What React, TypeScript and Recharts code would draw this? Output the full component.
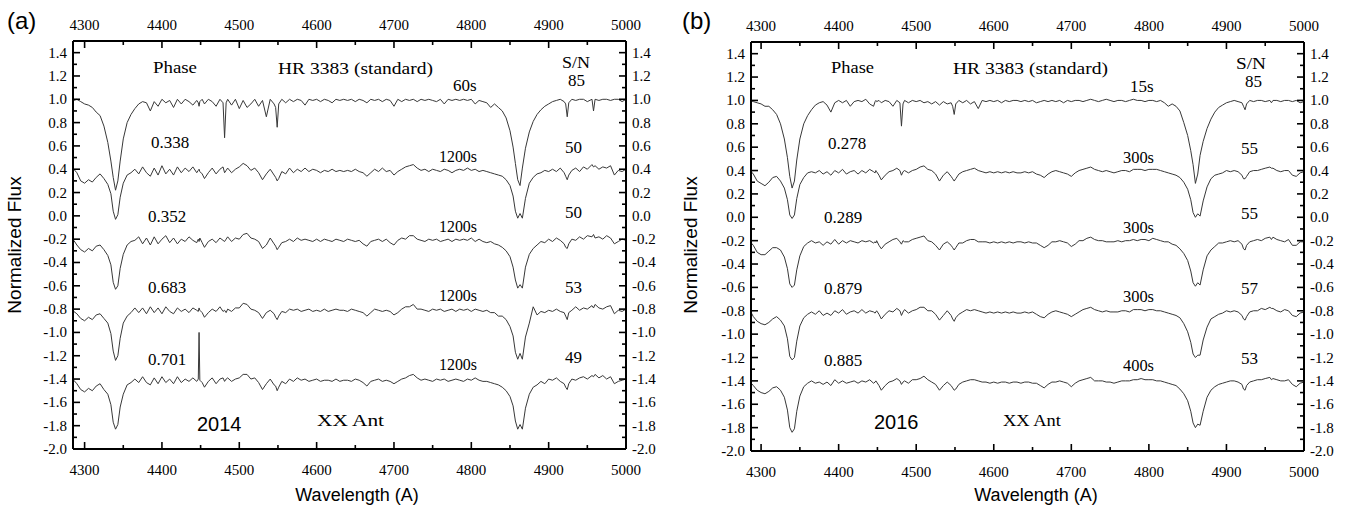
import React from "react";
import { LineChart, Line, XAxis, YAxis } from "recharts";

// wavelength grid (Angstrom), shared by every spectrum
const wavelength = [
  4286, 4290, 4295, 4300, 4305, 4310, 4315, 4320, 4325, 4330,
  4334, 4337, 4340, 4343, 4346, 4350, 4355, 4360, 4365, 4370,
  4375, 4380, 4385, 4390, 4395, 4400, 4405, 4410, 4415, 4420,
  4425, 4430, 4435, 4440, 4445, 4447, 4448, 4449, 4452, 4455,
  4460, 4465, 4470, 4475, 4479, 4481, 4483, 4485, 4490, 4495,
  4500, 4505, 4510, 4515, 4520, 4525, 4530, 4535, 4540, 4545,
  4547, 4549, 4551, 4555, 4560, 4565, 4570, 4575, 4580, 4585,
  4590, 4595, 4600, 4605, 4610, 4615, 4620, 4625, 4630, 4635,
  4640, 4645, 4650, 4655, 4660, 4665, 4670, 4675, 4680, 4685,
  4690, 4695, 4700, 4705, 4710, 4715, 4720, 4725, 4730, 4735,
  4740, 4745, 4750, 4755, 4760, 4765, 4770, 4775, 4780, 4785,
  4790, 4795, 4800, 4805, 4810, 4815, 4820, 4825, 4830, 4835,
  4840, 4845, 4850, 4854, 4857, 4860, 4863, 4866, 4870, 4875,
  4880, 4885, 4890, 4895, 4900, 4905, 4910, 4915, 4920, 4922,
  4924, 4926, 4930, 4935, 4940, 4945, 4950, 4956, 4958, 4960,
  4965, 4970, 4975, 4980, 4985, 4990, 4995, 5000,
];

// vertical shift applied to each spectrum (top to bottom)
const offsets = [0, -0.6, -1.2, -1.8, -2.4];

// ---- 2014 (panel a), normalized flux ----
const std2014 = [
  0.99, 1.00, 0.98, 0.96, 0.95, 0.93, 0.89, 0.86, 0.77, 0.63,
  0.47, 0.33, 0.22, 0.30, 0.47, 0.66, 0.80, 0.87, 0.92, 0.96,
  0.98, 0.97, 0.90, 0.98, 0.94, 1.00, 0.97, 0.99, 0.93, 1.00,
  0.96, 1.00, 0.98, 0.95, 0.99, 0.97, 0.94, 0.98, 1.00, 0.96,
  1.00, 0.98, 0.94, 1.00, 0.97, 0.67, 0.97, 1.00, 0.95, 1.00,
  0.92, 0.99, 0.93, 0.96, 1.00, 0.94, 0.99, 0.85, 1.00, 0.96,
  0.93, 0.76, 0.96, 1.00, 0.97, 1.00, 0.98, 1.00, 0.99, 0.95,
  1.00, 0.99, 1.00, 0.98, 1.00, 0.99, 0.97, 1.00, 0.99, 1.00,
  0.99, 1.00, 0.98, 1.00, 0.99, 0.97, 1.00, 0.99, 1.00, 0.98,
  1.00, 0.99, 0.94, 1.00, 0.98, 1.00, 0.99, 1.00, 0.98, 1.00,
  0.99, 1.00, 0.99, 0.98, 1.00, 0.96, 1.00, 0.99, 1.00, 0.99,
  1.00, 0.99, 1.00, 0.96, 0.99, 0.98, 0.97, 0.93, 0.96, 0.93,
  0.90, 0.84, 0.73, 0.59, 0.45, 0.31, 0.26, 0.41, 0.58, 0.72,
  0.81, 0.87, 0.91, 0.94, 0.96, 0.98, 0.99, 1.00, 0.98, 0.96,
  0.85, 0.97, 1.00, 0.99, 1.00, 1.00, 0.98, 1.00, 0.90, 1.00,
  0.99, 1.00, 1.00, 0.99, 1.00, 1.00, 0.98, 1.00,
];
const xx2014a = [
  1.00, 0.97, 0.90, 0.88, 0.91, 0.89, 0.93, 0.96, 0.92, 0.87,
  0.79, 0.64, 0.57, 0.61, 0.76, 0.88, 0.95, 0.97, 1.00, 0.96,
  1.02, 0.97, 0.94, 1.01, 0.95, 1.03, 0.96, 1.00, 0.95, 1.02,
  0.97, 1.01, 0.98, 1.02, 0.97, 0.99, 1.00, 0.98, 0.96, 0.92,
  0.97, 1.01, 0.96, 1.00, 1.02, 0.97, 0.99, 1.01, 0.97, 1.00,
  1.02, 1.05, 1.03, 0.99, 1.01, 0.97, 0.91, 0.96, 1.00, 0.95,
  0.93, 0.90, 0.92, 0.98, 0.96, 1.01, 0.97, 1.00, 0.98, 1.01,
  0.98, 1.00, 0.99, 0.97, 0.99, 0.98, 1.00, 0.98, 0.99, 0.98,
  0.99, 0.98, 1.00, 0.98, 0.97, 0.94, 0.97, 1.00, 0.98, 1.01,
  0.98, 0.99, 0.95, 0.98, 1.00, 1.02, 1.03, 1.04, 1.01, 0.99,
  1.00, 0.98, 1.00, 0.99, 0.98, 1.00, 0.99, 0.97, 0.99, 1.00,
  0.99, 1.01, 0.99, 1.00, 0.98, 0.99, 0.98, 0.97, 0.96, 0.95,
  0.94, 0.91, 0.86, 0.77, 0.64, 0.58, 0.62, 0.58, 0.75, 0.88,
  0.93, 0.96, 0.97, 0.99, 0.98, 1.00, 0.98, 1.01, 0.97, 0.94,
  0.91, 0.95, 0.99, 1.01, 0.98, 1.02, 1.00, 1.04, 1.02, 1.03,
  1.00, 1.02, 1.01, 1.03, 0.95, 0.99, 0.98, 1.00,
];
const xx2014b = [
  0.99, 0.95, 0.91, 0.89, 0.92, 0.90, 0.94, 0.95, 0.91, 0.86,
  0.78, 0.63, 0.57, 0.60, 0.75, 0.87, 0.95, 0.98, 0.99, 1.02,
  0.96, 1.01, 0.95, 1.02, 0.96, 1.00, 1.03, 0.97, 1.01, 0.96,
  1.00, 0.98, 1.02, 0.99, 0.97, 1.00, 0.98, 1.01, 0.97, 0.93,
  0.98, 1.00, 0.97, 1.01, 0.99, 0.98, 1.00, 1.02, 0.98, 1.01,
  1.00, 1.04, 1.05, 1.01, 1.00, 0.98, 0.92, 0.95, 1.01, 0.96,
  0.94, 0.91, 0.93, 0.97, 0.98, 1.00, 0.98, 1.01, 0.99, 1.00,
  0.99, 0.98, 1.00, 0.98, 1.00, 0.99, 0.98, 1.00, 0.99, 0.98,
  1.00, 0.99, 0.98, 0.99, 0.96, 0.94, 0.98, 0.99, 1.00, 0.98,
  1.00, 0.97, 0.95, 0.99, 1.01, 1.00, 1.03, 1.03, 1.00, 0.99,
  0.98, 1.00, 0.99, 1.00, 0.98, 0.99, 1.00, 0.98, 1.00, 0.99,
  1.00, 0.99, 1.01, 0.98, 1.00, 0.98, 0.97, 0.98, 0.96, 0.95,
  0.93, 0.90, 0.85, 0.76, 0.65, 0.58, 0.61, 0.58, 0.76, 0.87,
  0.92, 0.95, 0.98, 0.97, 1.00, 0.98, 1.01, 0.99, 0.96, 0.93,
  0.92, 0.96, 1.00, 0.99, 1.02, 1.00, 1.03, 1.02, 1.04, 1.01,
  1.02, 1.00, 1.03, 1.01, 0.96, 0.98, 1.00, 0.99,
];
const xx2014c = [
  0.98, 0.96, 0.92, 0.90, 0.93, 0.91, 0.95, 0.96, 0.92, 0.88,
  0.79, 0.64, 0.56, 0.60, 0.75, 0.88, 0.94, 0.97, 1.01, 0.97,
  1.01, 0.96, 1.02, 0.97, 1.01, 0.96, 1.02, 0.98, 0.96, 1.01,
  0.98, 1.00, 0.97, 1.01, 0.99, 0.98, 1.01, 0.99, 0.97, 0.93,
  0.97, 1.00, 0.98, 1.02, 0.98, 0.99, 0.97, 1.00, 0.98, 1.01,
  1.01, 1.05, 1.04, 1.00, 0.99, 0.97, 0.92, 0.97, 0.99, 0.96,
  0.93, 0.91, 0.94, 0.98, 0.97, 1.00, 0.99, 1.00, 0.98, 0.99,
  1.00, 0.98, 0.99, 0.98, 1.00, 0.98, 0.99, 1.00, 0.99, 0.99,
  0.98, 1.00, 0.99, 0.98, 0.97, 0.94, 0.97, 1.00, 0.99, 0.98,
  0.99, 0.98, 0.95, 0.97, 1.00, 1.02, 1.02, 1.04, 1.00, 1.00,
  0.99, 0.98, 1.00, 0.99, 1.00, 0.98, 0.99, 1.00, 0.98, 1.00,
  0.99, 1.00, 0.98, 1.00, 0.99, 0.98, 0.99, 0.97, 0.97, 0.94,
  0.94, 0.91, 0.85, 0.77, 0.63, 0.57, 0.62, 0.57, 0.76, 0.88,
  1.02, 0.95, 0.98, 0.97, 0.99, 0.98, 1.00, 0.98, 0.97, 0.94,
  0.91, 0.97, 0.99, 1.02, 0.99, 1.01, 1.00, 1.03, 1.01, 1.04,
  1.01, 1.00, 1.02, 1.03, 0.96, 0.99, 0.98, 1.00,
];
const xx2014d = [
  0.99, 0.96, 0.91, 0.89, 0.92, 0.90, 0.94, 0.96, 0.91, 0.87,
  0.78, 0.63, 0.57, 0.61, 0.76, 0.87, 0.95, 0.97, 1.00, 0.97,
  1.02, 0.97, 0.95, 1.01, 0.96, 1.02, 0.97, 1.00, 0.96, 1.02,
  0.97, 1.00, 0.98, 1.01, 0.98, 1.00, 1.40, 0.99, 0.97, 0.93,
  0.98, 1.01, 0.96, 1.00, 1.01, 0.98, 1.00, 1.01, 0.98, 1.00,
  1.01, 1.04, 1.04, 1.00, 1.01, 0.97, 0.91, 0.96, 1.00, 0.95,
  0.94, 0.90, 0.93, 0.98, 0.96, 1.00, 0.98, 1.01, 0.99, 1.00,
  0.98, 0.99, 1.00, 0.98, 0.99, 0.99, 0.98, 1.00, 0.98, 0.99,
  0.99, 0.98, 1.00, 0.99, 0.97, 0.94, 0.98, 0.99, 1.00, 0.98,
  0.99, 0.98, 0.96, 0.98, 1.00, 1.01, 1.03, 1.04, 1.01, 0.99,
  1.00, 0.99, 0.98, 1.00, 0.99, 1.00, 0.98, 0.99, 1.00, 0.99,
  0.98, 1.00, 0.99, 1.01, 0.99, 0.98, 0.98, 0.97, 0.96, 0.95,
  0.93, 0.90, 0.85, 0.77, 0.64, 0.57, 0.61, 0.57, 0.75, 0.87,
  0.93, 0.95, 0.98, 0.96, 1.00, 0.99, 1.01, 0.98, 0.96, 0.93,
  0.91, 0.96, 1.00, 0.99, 1.01, 1.02, 1.00, 1.03, 1.02, 1.04,
  1.01, 1.03, 1.00, 1.02, 0.96, 0.98, 0.99, 1.00,
];

// ---- 2016 (panel b), normalized flux ----
const std2016 = [
  1.00, 0.99, 0.98, 0.97, 0.95, 0.95, 0.92, 0.88, 0.80, 0.67,
  0.51, 0.35, 0.25, 0.31, 0.49, 0.67, 0.80, 0.87, 0.92, 0.96,
  0.98, 0.99, 0.96, 0.90, 0.98, 1.00, 0.98, 1.00, 0.95, 0.99,
  1.00, 0.99, 1.01, 0.97, 0.95, 0.99, 1.00, 0.99, 1.00, 0.98,
  1.00, 0.99, 0.95, 1.00, 0.98, 0.78, 0.97, 1.00, 0.98, 1.00,
  0.99, 1.00, 0.98, 0.99, 0.97, 0.99, 0.96, 0.99, 0.97, 0.98,
  0.95, 0.88, 0.97, 1.00, 0.98, 1.00, 0.97, 0.99, 0.93, 1.00,
  0.99, 1.00, 0.99, 1.00, 0.98, 1.00, 0.99, 1.00, 1.00, 0.99,
  1.00, 0.99, 1.00, 0.98, 0.99, 1.00, 0.99, 1.00, 0.99, 1.00,
  0.98, 1.00, 0.99, 1.00, 1.00, 0.99, 1.00, 1.01, 1.00, 0.99,
  1.00, 1.01, 1.00, 0.99, 1.00, 1.00, 0.99, 1.00, 1.01, 1.00,
  1.00, 0.99, 1.00, 1.00, 0.99, 1.00, 0.98, 0.95, 0.97, 0.95,
  0.91, 0.81, 0.70, 0.57, 0.45, 0.29, 0.37, 0.53, 0.65, 0.76,
  0.84, 0.90, 0.94, 0.96, 0.98, 0.99, 1.00, 0.99, 0.98, 0.95,
  0.92, 0.97, 1.00, 0.99, 1.00, 1.00, 0.99, 1.00, 0.98, 1.00,
  1.00, 0.99, 1.00, 1.00, 0.99, 1.00, 0.98, 0.99,
];
const xx2016a = [
  1.00, 0.97, 0.91, 0.89, 0.87, 0.90, 0.94, 0.95, 0.91, 0.85,
  0.75, 0.62, 0.59, 0.62, 0.76, 0.88, 0.94, 0.98, 0.99, 0.98,
  1.00, 0.97, 0.99, 0.96, 1.00, 0.98, 1.01, 0.97, 0.99, 1.00,
  0.97, 1.00, 0.98, 1.01, 0.99, 0.98, 1.00, 0.99, 0.96, 0.92,
  0.96, 0.99, 1.00, 1.02, 1.00, 0.96, 0.99, 1.00, 0.98, 1.00,
  1.01, 1.03, 1.04, 1.01, 1.00, 0.97, 0.91, 0.96, 0.99, 0.95,
  0.93, 0.91, 0.93, 0.97, 0.99, 1.00, 1.01, 1.02, 1.00, 0.99,
  0.98, 0.99, 0.98, 0.99, 0.98, 0.99, 0.98, 0.99, 0.98, 0.98,
  0.99, 0.98, 0.99, 0.97, 0.96, 0.94, 0.97, 0.99, 1.00, 0.99,
  0.98, 0.97, 0.95, 0.98, 1.00, 1.01, 1.02, 1.03, 1.01, 1.00,
  0.99, 1.00, 0.99, 0.98, 0.99, 1.00, 1.00, 0.99, 1.01, 1.01,
  1.01, 1.00, 1.01, 1.01, 1.01, 1.00, 0.99, 0.98, 0.97, 0.96,
  0.94, 0.90, 0.84, 0.75, 0.64, 0.60, 0.63, 0.61, 0.74, 0.86,
  0.93, 0.96, 0.97, 0.98, 1.00, 0.99, 1.00, 0.99, 0.96, 0.93,
  0.93, 0.95, 0.99, 1.00, 1.00, 1.01, 1.02, 1.03, 1.02, 1.02,
  1.00, 0.99, 1.00, 1.00, 0.96, 0.95, 0.98, 0.99,
];
const xx2016b = [
  0.99, 0.96, 0.90, 0.88, 0.88, 0.91, 0.94, 0.94, 0.92, 0.86,
  0.76, 0.63, 0.60, 0.62, 0.75, 0.87, 0.95, 0.98, 1.00, 0.98,
  0.99, 0.96, 0.99, 0.97, 1.01, 0.97, 1.00, 0.98, 1.00, 0.99,
  0.98, 1.00, 0.99, 1.00, 0.98, 0.99, 0.98, 1.00, 0.96, 0.93,
  0.97, 0.99, 1.01, 1.02, 0.99, 0.97, 1.00, 0.99, 0.99, 1.01,
  1.02, 1.03, 1.04, 1.00, 0.99, 0.96, 0.92, 0.97, 0.99, 0.96,
  0.94, 0.92, 0.94, 0.98, 0.98, 1.00, 1.01, 1.01, 0.99, 0.99,
  0.99, 0.98, 0.99, 0.98, 0.99, 0.98, 0.99, 0.98, 0.99, 0.99,
  0.98, 0.99, 0.98, 0.98, 0.96, 0.94, 0.96, 0.99, 0.99, 1.00,
  0.99, 0.98, 0.95, 0.97, 1.00, 1.00, 1.02, 1.03, 1.01, 1.00,
  1.00, 0.99, 0.99, 0.99, 1.00, 0.99, 1.00, 1.00, 1.01, 1.00,
  1.01, 1.01, 1.00, 1.02, 1.01, 1.00, 0.99, 0.99, 0.97, 0.96,
  0.93, 0.89, 0.83, 0.74, 0.64, 0.61, 0.64, 0.62, 0.75, 0.87,
  0.92, 0.95, 0.98, 0.98, 0.99, 1.00, 0.99, 1.00, 0.97, 0.93,
  0.92, 0.96, 0.99, 1.00, 1.01, 1.00, 1.02, 1.03, 1.01, 1.03,
  1.01, 1.00, 0.99, 1.01, 0.96, 0.96, 0.99, 0.99,
];
const xx2016c = [
  1.00, 0.95, 0.91, 0.89, 0.88, 0.90, 0.93, 0.95, 0.92, 0.87,
  0.76, 0.61, 0.58, 0.60, 0.74, 0.87, 0.94, 0.97, 0.99, 0.97,
  1.00, 0.96, 0.98, 0.96, 1.00, 0.98, 1.01, 0.97, 0.99, 1.00,
  0.98, 1.01, 0.98, 1.00, 0.99, 0.98, 0.99, 1.00, 0.97, 0.93,
  0.97, 1.00, 0.99, 1.02, 1.00, 0.96, 0.99, 1.01, 0.98, 1.00,
  1.01, 1.03, 1.03, 1.00, 1.00, 0.97, 0.92, 0.96, 1.00, 0.96,
  0.93, 0.91, 0.94, 0.97, 0.99, 1.01, 1.00, 1.01, 1.00, 0.99,
  0.98, 0.99, 0.98, 0.99, 0.98, 0.99, 0.98, 0.99, 0.98, 0.98,
  0.99, 0.98, 0.99, 0.97, 0.95, 0.94, 0.97, 0.99, 1.00, 0.99,
  0.98, 0.97, 0.95, 0.97, 0.99, 1.01, 1.02, 1.03, 1.01, 1.00,
  0.99, 1.00, 0.99, 0.99, 0.99, 1.00, 1.00, 0.99, 1.01, 1.01,
  1.01, 1.00, 1.01, 1.01, 1.00, 1.00, 0.99, 0.98, 0.97, 0.96,
  0.94, 0.89, 0.82, 0.73, 0.63, 0.60, 0.62, 0.62, 0.75, 0.86,
  0.93, 0.95, 0.97, 0.98, 1.00, 0.99, 1.00, 0.99, 0.96, 0.93,
  0.92, 0.95, 0.99, 1.00, 1.00, 1.02, 1.01, 1.03, 1.02, 1.02,
  1.00, 0.99, 1.01, 1.00, 0.96, 0.95, 0.98, 0.99,
];
const xx2016d = [
  0.99, 0.96, 0.92, 0.90, 0.89, 0.91, 0.94, 0.95, 0.92, 0.86,
  0.75, 0.60, 0.56, 0.59, 0.74, 0.87, 0.95, 0.98, 1.00, 0.98,
  0.99, 0.97, 0.99, 0.96, 1.01, 0.98, 1.00, 0.98, 0.99, 1.00,
  0.98, 1.00, 0.99, 1.01, 0.98, 0.99, 1.00, 0.99, 0.96, 0.92,
  0.96, 0.99, 1.00, 1.02, 1.00, 0.97, 0.99, 1.00, 0.98, 1.01,
  1.01, 1.02, 1.04, 1.01, 0.99, 0.97, 0.92, 0.96, 0.99, 0.96,
  0.94, 0.92, 0.93, 0.97, 0.99, 1.00, 1.01, 1.01, 1.00, 0.99,
  0.99, 0.98, 0.99, 0.98, 0.99, 0.99, 0.98, 0.99, 0.99, 0.98,
  0.99, 0.99, 0.98, 0.98, 0.96, 0.94, 0.97, 0.99, 0.99, 1.00,
  0.99, 0.98, 0.95, 0.98, 1.00, 1.01, 1.02, 1.03, 1.00, 1.00,
  1.00, 0.99, 0.99, 0.98, 0.99, 1.00, 1.00, 1.00, 1.01, 1.01,
  1.02, 1.01, 1.01, 1.01, 1.00, 1.00, 0.99, 0.98, 0.97, 0.96,
  0.93, 0.89, 0.83, 0.74, 0.64, 0.60, 0.63, 0.62, 0.74, 0.86,
  0.92, 0.95, 0.97, 0.98, 0.99, 1.00, 1.00, 0.99, 0.97, 0.93,
  0.92, 0.96, 0.99, 1.00, 1.01, 1.01, 1.02, 1.03, 1.01, 1.02,
  1.01, 1.00, 1.00, 1.01, 0.97, 0.95, 0.98, 0.99,
];

// axis ticks
const xTicks = [4300, 4350, 4400, 4450, 4500, 4550, 4600, 4650, 4700, 4750, 4800, 4850, 4900, 4950, 5000];
const yTicks = [1.4, 1.3, 1.2, 1.1, 1.0, 0.9, 0.8, 0.7, 0.6, 0.5, 0.4, 0.3, 0.2, 0.1, 0.0,
  -0.1, -0.2, -0.3, -0.4, -0.5, -0.6, -0.7, -0.8, -0.9, -1.0, -1.1, -1.2, -1.3, -1.4,
  -1.5, -1.6, -1.7, -1.8, -1.9, -2.0];

// annotations
const phases2014 = ["0.338", "0.352", "0.683", "0.701"];
const exposures2014 = ["60s", "1200s", "1200s", "1200s", "1200s"];
const snr2014 = ["85", "50", "50", "53", "49"];
const phases2016 = ["0.278", "0.289", "0.879", "0.885"];
const exposures2016 = ["15s", "300s", "300s", "300s", "400s"];
const snr2016 = ["85", "55", "55", "57", "53"];

const SERIF = "'Liberation Serif', 'DejaVu Serif', serif";
const SANS = "'Liberation Sans', Arial, sans-serif";
const keys = ["s0", "s1", "s2", "s3", "s4"];

function buildData(series: number[][]) {
  return wavelength.map((w, i) => {
    const row: Record<string, number> = { w };
    series.forEach((s, k) => {
      row[keys[k]] = s[i] + offsets[k];
    });
    return row;
  });
}

const data2014 = buildData([std2014, xx2014a, xx2014b, xx2014c, xx2014d]);
const data2016 = buildData([std2016, xx2016a, xx2016b, xx2016c, xx2016d]);

const XTick = (props: any) => {
  const { x, y, payload, side } = props;
  const v = payload.value;
  const major = Math.round(v) % 100 === 0;
  const len = major ? 7 : 4;
  const dir = side === "top" ? 1 : -1;
  return (
    <g>
      <line x1={x} y1={y} x2={x} y2={y + dir * len} stroke="#000" strokeWidth={1.6} />
      {major && (
        <text x={x} y={side === "top" ? y - 11 : y + 26} textAnchor="middle"
          fontFamily={SERIF} fontSize={15} fill="#000">{v}</text>
      )}
    </g>
  );
};

const YTick = (props: any) => {
  const { x, y, payload, side } = props;
  const v = payload.value;
  const major = Math.round(v * 10) % 2 === 0;
  const len = major ? 7 : 4;
  const dir = side === "left" ? 1 : -1;
  return (
    <g>
      <line x1={x} y1={y} x2={x + dir * len} y2={y} stroke="#000" strokeWidth={1.6} />
      {major && (
        <text x={side === "left" ? x - 6 : x + 6} y={y + 5} textAnchor={side === "left" ? "end" : "start"}
          fontFamily={SERIF} fontSize={15} fill="#000">{v.toFixed(1)}</text>
      )}
    </g>
  );
};

type PanelProps = {
  data: Record<string, number>[];
  left: number;
  xMin: number;
  yLeftW: number;
  yRightW: number;
  topH: number;
  bottomH: number;
};

const Panel = ({ data, left, xMin, yLeftW, yRightW, topH, bottomH }: PanelProps) => (
  <div style={{ position: "absolute", left, top: 0 }}>
    <LineChart width={673} height={509} data={data} margin={{ top: 0, right: 0, bottom: 0, left: 0 }}>
      <XAxis xAxisId="b" dataKey="w" type="number" orientation="bottom" domain={[xMin, 5000]}
        allowDataOverflow ticks={xTicks} interval={0} height={bottomH} tickSize={0} tickMargin={0}
        axisLine={{ stroke: "#000", strokeWidth: 2 }} tickLine={false}
        tick={(p: any) => <XTick {...p} side="bottom" />} />
      <XAxis xAxisId="t" dataKey="w" type="number" orientation="top" domain={[xMin, 5000]}
        allowDataOverflow ticks={xTicks} interval={0} height={topH} tickSize={0} tickMargin={0}
        axisLine={{ stroke: "#000", strokeWidth: 2 }} tickLine={false}
        tick={(p: any) => <XTick {...p} side="top" />} />
      <YAxis yAxisId="l" type="number" orientation="left" domain={[-2.0, 1.5]} allowDataOverflow
        ticks={yTicks} interval={0} width={yLeftW} tickSize={0} tickMargin={0}
        axisLine={{ stroke: "#000", strokeWidth: 2 }} tickLine={false}
        tick={(p: any) => <YTick {...p} side="left" />} />
      <YAxis yAxisId="r" type="number" orientation="right" domain={[-2.0, 1.5]} allowDataOverflow
        ticks={yTicks} interval={0} width={yRightW} tickSize={0} tickMargin={0}
        axisLine={{ stroke: "#000", strokeWidth: 2 }} tickLine={false}
        tick={(p: any) => <YTick {...p} side="right" />} />
      {keys.map((k) => (
        <Line key={k} xAxisId="b" yAxisId="l" type="linear" dataKey={k} stroke="#383838"
          strokeWidth={1} dot={false} activeDot={false} isAnimationActive={false} />
      ))}
    </LineChart>
  </div>
);

const T = ({ x, y, children, size = 17, family = SERIF, anchor = "start", len }: any) => (
  <text x={x} y={y} fontSize={size} fontFamily={family} textAnchor={anchor} fill="#000"
    textLength={len} lengthAdjust={len ? "spacingAndGlyphs" : undefined}>{children}</text>
);

const Annotations = () => {
  const expY = [91, 162, 232, 301, 370];
  const snrY = [86, 153, 218, 293, 363];
  const phY = [148, 222, 293, 365];
  return (
    <svg width={1346} height={509} style={{ position: "absolute", left: 0, top: 0, pointerEvents: "none" }}>
      {/* panel (a) */}
      <T x={7} y={29} size={24} family={SANS}>(a)</T>
      <T x={153} y={73} len={44}>Phase</T>
      <T x={278} y={74} len={155}>HR 3383 (standard)</T>
      <T x={562} y={68} len={28}>S/N</T>
      {exposures2014.map((e, i) => (
        <T key={"e" + i} x={i === 0 ? 453 : 439} y={expY[i]} len={i === 0 ? undefined : 38}>{e}</T>
      ))}
      {snr2014.map((s, i) => <T key={"s" + i} x={i === 0 ? 568 : 565} y={snrY[i]}>{s}</T>)}
      {phases2014.map((p, i) => <T key={"p" + i} x={i === 0 ? 151 : 148} y={phY[i]}>{p}</T>)}
      <T x={197} y={431} size={20} family={SANS}>2014</T>
      <T x={317} y={426} len={67}>XX Ant</T>
      <text transform="translate(21,245) rotate(-90)" textAnchor="middle" fontSize={19} fontFamily={SANS}>Normalized Flux</text>
      <T x={357} y={501} size={18} family={SANS} anchor="middle">Wavelength (A)</T>

      {/* panel (b) */}
      <T x={682} y={29} size={24} family={SANS}>(b)</T>
      <T x={831} y={73} len={43}>Phase</T>
      <T x={953} y={74} len={155}>HR 3383 (standard)</T>
      <T x={1236} y={69} len={30}>S/N</T>
      {exposures2016.map((e, i) => (
        <T key={"e2" + i} x={i === 0 ? 1130 : 1123} y={expY[i] + 1} len={i === 0 ? undefined : 31}>{e}</T>
      ))}
      {snr2016.map((s, i) => <T key={"s2" + i} x={i === 0 ? 1245 : 1241} y={snrY[i] + 1}>{s}</T>)}
      {phases2016.map((p, i) => <T key={"p2" + i} x={i === 0 ? 828 : 824} y={phY[i] + 1}>{p}</T>)}
      <T x={874} y={429} size={20} family={SANS}>2016</T>
      <T x={1003} y={426} len={58}>XX Ant</T>
      <text transform="translate(697,245) rotate(-90)" textAnchor="middle" fontSize={19} fontFamily={SANS}>Normalized Flux</text>
      <T x={1036} y={501} size={18} family={SANS} anchor="middle">Wavelength (A)</T>
    </svg>
  );
};

export default function App() {
  return (
    <div style={{ position: "absolute", left: 0, top: 0, width: 1346, height: 509, background: "#fff", overflow: "hidden" }}>
      <Panel data={data2014} left={0} xMin={4285} yLeftW={73} yRightW={47} topH={41} bottomH={60} />
      <Panel data={data2016} left={673} xMin={4287} yLeftW={78} yRightW={42} topH={42} bottomH={58} />
      <Annotations />
    </div>
  );
}
